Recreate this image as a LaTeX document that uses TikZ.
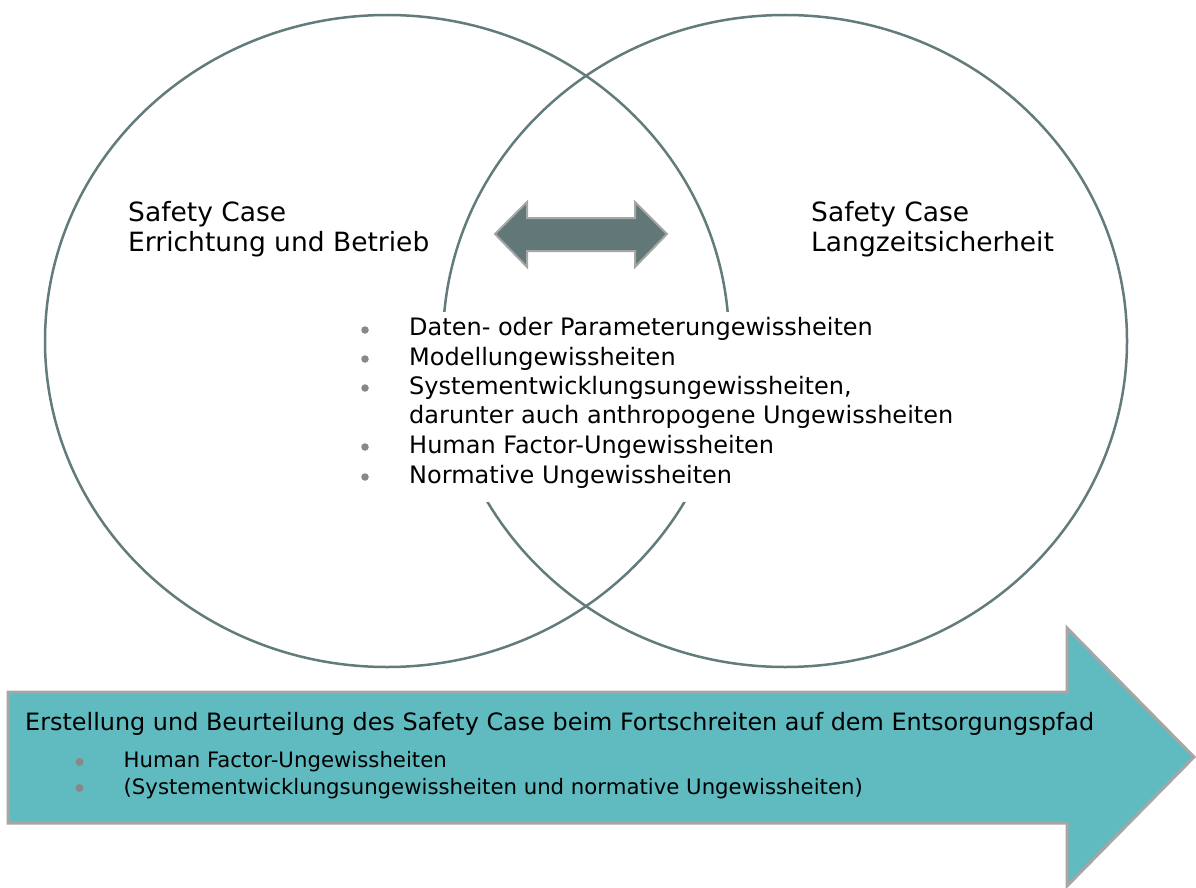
\documentclass[tikz,border=0pt]{standalone}
\usepackage{fontspec}
\setmainfont{DejaVu Sans}
\definecolor{circ}{RGB}{99,123,123}
\definecolor{darr}{RGB}{98,120,120}
\definecolor{arrline}{RGB}{166,166,166}
\definecolor{bigfill}{RGB}{96,187,192}
\definecolor{dotc}{RGB}{136,136,136}
\begin{document}
\begin{tikzpicture}[x=1pt,y=-1pt,
  circ/.style={draw=circ,line width=2.5pt},
  head/.style={anchor=base west,inner sep=0pt,font=\fontsize{26.5}{30}\selectfont},
  item/.style={anchor=base west,inner sep=0pt,font=\fontsize{24}{29}\selectfont},
  title/.style={anchor=base west,inner sep=0pt,font=\fontsize{23.9}{28}\selectfont},
  sub/.style={anchor=base west,inner sep=0pt,font=\fontsize{21.25}{26}\selectfont},
  dot/.style={circle,fill=dotc,inner sep=0pt,minimum size=7.5pt},
  sdot/.style={circle,fill=dotc,inner sep=0pt,minimum size=8pt}]
\useasboundingbox (0,0) rectangle (1196,888);
% circles
\draw[circ] (387,341) ellipse [x radius=342, y radius=326];
\draw[circ] (785,341) ellipse [x radius=342, y radius=326];
% white box behind list
\fill[white] (350,312) rectangle (960,502);
% double arrow
\draw[fill=darr,draw=arrline,line width=2pt,line join=miter]
  (495,234) -- (527,202) -- (527,218) -- (635,218) -- (635,202) -- (667,234)
  -- (635,267) -- (635,251) -- (527,251) -- (527,267) -- cycle;
% headers
\node[head] (l1) at (128,221.5) {Safety Case};
\node[head] (l2) at (128,251.5) {Errichtung und Betrieb};
\node[head] (r1) at (811,221.5) {Safety Case};
\node[head] (r2) at (811,251.5) {Langzeitsicherheit};
% list
\node[dot] (d1) at (365,330) {};
\node[dot] (d2) at (365,359) {};
\node[dot] (d3) at (365,388) {};
\node[dot] (d4) at (365,447) {};
\node[dot] (d5) at (365,477) {};
\node[item] (i1) at (409,335.5) {Daten- oder Parameterungewissheiten};
\node[item] (i2) at (409,365) {Modellungewissheiten};
\node[item] (i3) at (409,394) {Systementwicklungsungewissheiten,};
\node[item] (i3b) at (409,423) {darunter auch anthropogene Ungewissheiten};
\node[item] (i4) at (409,453) {Human Factor-Ungewissheiten};
\node[item] (i5) at (409,483) {Normative Ungewissheiten};
% big arrow
\draw[fill=bigfill,draw=arrline,line width=3pt,line join=miter]
  (8,692) -- (1067,692) -- (1067,628) -- (1194,757) -- (1067,886) -- (1067,823) -- (8,823) -- cycle;
\node[title] (t) at (25,730.5) {Erstellung und Beurteilung des Safety Case beim Fortschreiten auf dem Entsorgungspfad};
\node[sdot] (s1) at (79.5,762) {};
\node[sdot] (s2) at (79.5,788) {};
\node[sub] (u1) at (123.5,767.5) {Human Factor-Ungewissheiten};
\node[sub] (u2) at (123.5,794) {(Systementwicklungsungewissheiten und normative Ungewissheiten)};
\end{tikzpicture}
\end{document}
